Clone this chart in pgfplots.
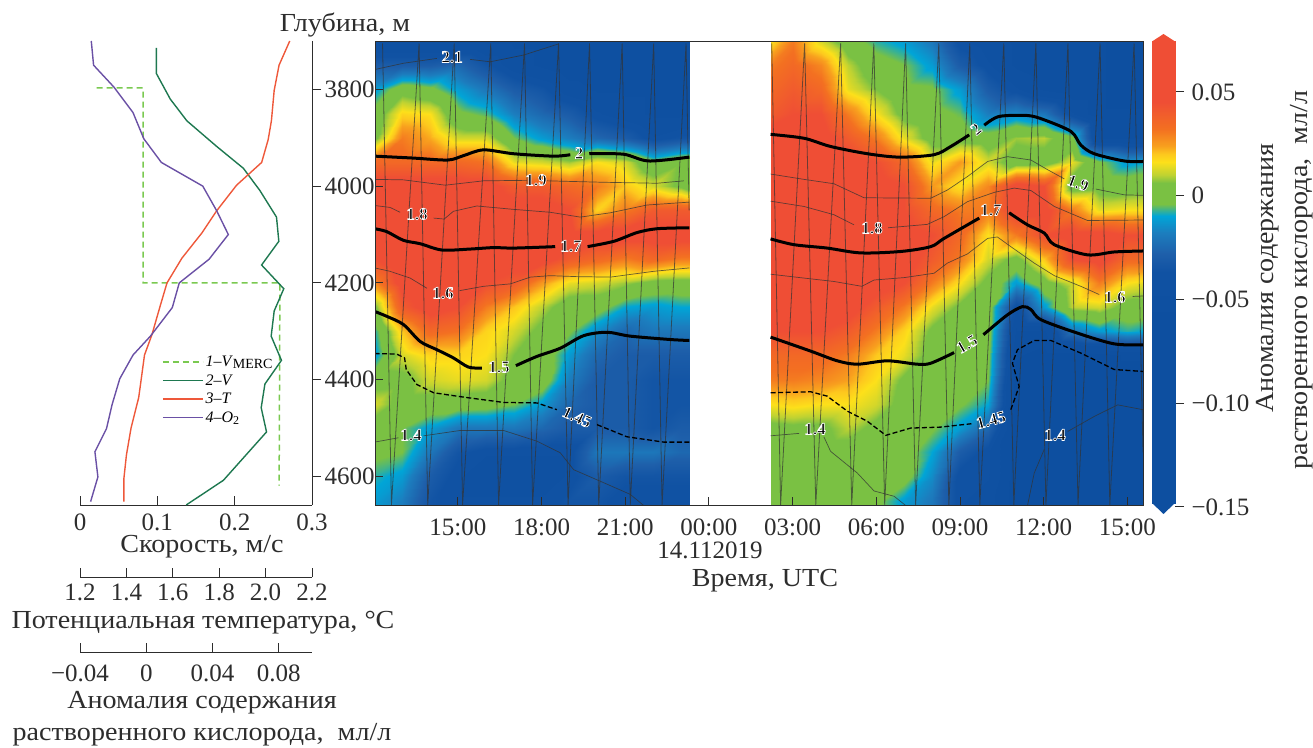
\documentclass[border=0pt]{standalone}
\usepackage{fontspec}
\usepackage{pgfplots}
\pgfplotsset{compat=1.18}
\setmainfont{Liberation Serif}
\newfontfamily\halofam[UprightFont=* Bold,FakeBold=4]{Liberation Serif}
\newfontfamily\capfam[FakeStretch=1.08]{Liberation Serif}
\newcommand{\tickf}{\fontsize{25}{28}\selectfont}
\newcommand{\capf}{\capfam\fontsize{26}{30}\selectfont}
\newcommand{\bigf}{\fontsize{25}{28}\selectfont}
\newcommand{\lbf}{\fontsize{16}{18}\selectfont}
\definecolor{axc}{RGB}{45,45,45}
\definecolor{cvel}{RGB}{30,120,80}
\definecolor{ctem}{RGB}{238,88,58}
\definecolor{coxy}{RGB}{106,80,165}
\definecolor{cmer}{RGB}{122,201,80}
\pgfplotsset{
  colormap={oxy}{rgb255(0pt)=(13,79,160); rgb255(90pt)=(13,79,160); rgb255(113pt)=(16,82,163); rgb255(122pt)=(30,95,170); rgb255(132pt)=(28,125,190); rgb255(140pt)=(0,165,215); rgb255(146pt)=(122,193,67); rgb255(156pt)=(122,193,67); rgb255(160pt)=(190,210,50); rgb255(166pt)=(253,224,26); rgb255(170pt)=(253,200,30); rgb255(174pt)=(248,160,30); rgb255(182pt)=(243,112,33); rgb255(195pt)=(239,78,53); rgb255(225pt)=(239,78,53)},
  base/.style={anchor=south west, scale only axis, tick label style={font=\tickf,text=axc}, axis line style={axc,line width=.9pt}, tick style={axc,line width=.9pt}, major tick length=9pt},
  thinc/.style={draw=black!80,line width=.7pt,opacity=.75,forget plot},
  thickc/.style={draw=black,line width=3pt,forget plot},
  dashc/.style={draw=black,line width=1.3pt,dash pattern=on 5pt off 2.5pt,forget plot},
  track/.style={draw=black!80,line width=.8pt,opacity=.7,forget plot},
}
\newcommand{\clabel}[4][0]{\node[rotate=#1,inner sep=0pt,font={\halofam\fontsize{17}{19}\selectfont}] at (#2pt,#3pt){\special{pdf:bcolor [0 0 0] [1 1 1]}#4\special{pdf:ecolor}};}
\begin{document}
\begin{tikzpicture}
\path[use as bounding box] (0,0) rectangle (1313pt,747pt);
% ---------------- heat map
\begin{axis}[base,at={(375pt,242pt)},width=768pt,height=464pt,xmin=12.03,xmax=39.56,ymin=3700,ymax=4659,y dir=reverse,
  axis on top,colormap name=oxy,point meta min=-.15,point meta max=.075,
  xtick={15,18,21,24,27,30,33,36,39},xticklabels={15:00,18:00,21:00,00:00,03:00,06:00,09:00,12:00,15:00},
  ytick={3800,4000,4200,4400,4600},yticklabels={},tick align=inside,xtick pos=lower,ytick pos=left,major tick length=8pt,
  xticklabel pos=lower,xticklabel style={yshift=-10pt}]
\addplot[surf,shader=interp,forget plot,mesh/rows=21,mesh/cols=13,mesh/ordering=y varies,point meta=\thisrow{v}] table {
x y v
12.03 3700 -.05
12.03 3750 -.03
12.03 3800 -.012
12.03 3850 0
12.03 3900 .004
12.03 3950 .035
12.03 4000 .05
12.03 4050 .055
12.03 4100 .05
12.03 4150 .045
12.03 4200 .028
12.03 4250 .005
12.03 4300 -.008
12.03 4350 -.012
12.03 4400 .002
12.03 4450 .012
12.03 4500 0
12.03 4550 -.002
12.03 4600 -.008
12.03 4650 -.012
12.03 4660 -.012
13 3700 -.05
13 3750 -.03
13 3800 .002
13 3850 .018
13 3900 .03
13 3950 .035
13 4000 .05
13 4050 .055
13 4100 .06
13 4150 .055
13 4200 .05
13 4250 .04
13 4300 .02
13 4350 .012
13 4400 .003
13 4450 .002
13 4500 -.004
13 4550 -.004
13 4600 -.012
13 4650 -.018
13 4660 -.018
14 3700 -.05
14 3750 -.03
14 3800 -.002
14 3850 .016
14 3900 .023
14 3950 .035
14 4000 .05
14 4050 .055
14 4100 .06
14 4150 .06
14 4200 .055
14 4250 .05
14 4300 .035
14 4350 .018
14 4400 .012
14 4450 .002
14 4500 -.012
14 4550 -.02
14 4600 -.03
14 4650 -.035
14 4660 -.035
15 3700 -.05
15 3750 -.025
15 3800 -.012
15 3850 -.002
15 3900 .012
15 3950 .035
15 4000 .05
15 4050 .055
15 4100 .06
15 4150 .06
15 4200 .05
15 4250 .045
15 4300 .032
15 4350 .018
15 4400 .014
15 4450 .001
15 4500 -.02
15 4550 -.035
15 4600 -.04
15 4650 -.04
15 4660 -.04
16 3700 -.05
16 3750 -.035
16 3800 -.02
16 3850 -.006
16 3900 .012
16 3950 .032
16 4000 .05
16 4050 .055
16 4100 .06
16 4150 .055
16 4200 .045
16 4250 .03
16 4300 .018
16 4350 .016
16 4400 .012
16 4450 0
16 4500 -.02
16 4550 -.04
16 4600 -.045
16 4650 -.04
16 4660 -.04
17 3700 -.05
17 3750 -.045
17 3800 -.03
17 3850 -.018
17 3900 -.004
17 3950 .014
17 4000 .04
17 4050 .05
17 4100 .055
17 4150 .05
17 4200 .04
17 4250 .02
17 4300 .012
17 4350 .006
17 4400 .002
17 4450 -.004
17 4500 -.02
17 4550 -.04
17 4600 -.045
17 4650 -.04
17 4660 -.04
18 3700 -.05
18 3750 -.05
18 3800 -.035
18 3850 -.025
18 3900 -.012
18 3950 .012
18 4000 .04
18 4050 .05
18 4100 .055
18 4150 .05
18 4200 .025
18 4250 .01
18 4300 .003
18 4350 .002
18 4400 .002
18 4450 -.012
18 4500 -.025
18 4550 -.04
18 4600 -.045
18 4650 -.04
18 4660 -.04
19 3700 -.05
19 3750 -.055
19 3800 -.045
19 3850 -.03
19 3900 -.018
19 3950 .008
19 4000 .035
19 4050 .045
19 4100 .05
19 4150 .04
19 4200 .014
19 4250 0
19 4300 -.003
19 4350 -.012
19 4400 -.018
19 4450 -.025
19 4500 -.03
19 4550 -.04
19 4600 -.04
19 4650 -.035
19 4660 -.035
20 3700 -.055
20 3750 -.055
20 3800 -.05
20 3850 -.04
20 3900 -.025
20 3950 .016
20 4000 .03
20 4050 .018
20 4100 .05
20 4150 .035
20 4200 .012
20 4250 0
20 4300 -.015
20 4350 -.025
20 4400 -.03
20 4450 -.03
20 4500 -.03
20 4550 -.02
20 4600 -.03
20 4650 -.035
20 4660 -.035
21 3700 -.055
21 3750 -.055
21 3800 -.05
21 3850 -.045
21 3900 -.03
21 3950 .012
21 4000 .02
21 4050 .03
21 4100 .05
21 4150 .03
21 4200 .008
21 4250 -.01
21 4300 -.025
21 4350 -.03
21 4400 -.03
21 4450 -.03
21 4500 -.03
21 4550 -.02
21 4600 -.035
21 4650 -.04
21 4660 -.04
22 3700 -.055
22 3750 -.055
22 3800 -.05
22 3850 -.05
22 3900 -.04
22 3950 -.002
22 4000 .012
22 4050 .04
22 4100 .05
22 4150 .035
22 4200 .003
22 4250 -.012
22 4300 -.02
22 4350 -.03
22 4400 -.035
22 4450 -.035
22 4500 -.035
22 4550 -.02
22 4600 -.035
22 4650 -.04
22 4660 -.04
23 3700 -.055
23 3750 -.055
23 3800 -.055
23 3850 -.05
23 3900 -.035
23 3950 .005
23 4000 .004
23 4050 .04
23 4100 .05
23 4150 .03
23 4200 .002
23 4250 -.01
23 4300 -.02
23 4350 -.03
23 4400 -.035
23 4450 -.035
23 4500 -.03
23 4550 -.025
23 4600 -.035
23 4650 -.04
23 4660 -.04
23.29 3700 -.055
23.29 3750 -.055
23.29 3800 -.055
23.29 3850 -.05
23.29 3900 -.035
23.29 3950 .006
23.29 4000 0
23.29 4050 .04
23.29 4100 .05
23.29 4150 .03
23.29 4200 .002
23.29 4250 -.01
23.29 4300 -.02
23.29 4350 -.03
23.29 4400 -.035
23.29 4450 -.035
23.29 4500 -.03
23.29 4550 -.025
23.29 4600 -.035
23.29 4650 -.04
23.29 4660 -.04
};
\addplot[surf,shader=interp,forget plot,mesh/rows=21,mesh/cols=15,mesh/ordering=y varies,point meta=\thisrow{v}] table {
x y v
26.21 3700 .016
26.21 3750 .03
26.21 3800 .035
26.21 3850 .04
26.21 3900 .05
26.21 3950 .06
26.21 4000 .06
26.21 4050 .06
26.21 4100 .06
26.21 4150 .06
26.21 4200 .055
26.21 4250 .05
26.21 4300 .045
26.21 4350 .035
26.21 4400 .03
26.21 4450 .016
26.21 4500 .003
26.21 4550 .002
26.21 4600 .002
26.21 4650 0
26.21 4660 0
27 3700 .03
27 3750 .035
27 3800 .04
27 3850 .045
27 3900 .05
27 3950 .06
27 4000 .06
27 4050 .06
27 4100 .06
27 4150 .06
27 4200 .055
27 4250 .05
27 4300 .045
27 4350 .035
27 4400 .03
27 4450 .018
27 4500 .004
27 4550 .002
27 4600 .002
27 4650 0
27 4660 0
28 3700 .012
28 3750 .028
28 3800 .035
28 3850 .045
28 3900 .05
28 3950 .055
28 4000 .06
28 4050 .06
28 4100 .06
28 4150 .06
28 4200 .055
28 4250 .05
28 4300 .045
28 4350 .035
28 4400 .028
28 4450 .016
28 4500 .004
28 4550 .002
28 4600 .002
28 4650 0
28 4660 0
29 3700 0
29 3750 .01
29 3800 .014
29 3850 .03
29 3900 .04
29 3950 .05
29 4000 .055
29 4050 .055
29 4100 .06
29 4150 .06
29 4200 .055
29 4250 .05
29 4300 .04
29 4350 .03
29 4400 .024
29 4450 .016
29 4500 .01
29 4550 .002
29 4600 0
29 4650 0
29 4660 0
30 3700 -.008
30 3750 0
30 3800 .006
30 3850 .016
30 3900 .03
30 3950 .045
30 4000 .05
30 4050 .05
30 4100 .055
30 4150 .055
30 4200 .05
30 4250 .04
30 4300 .03
30 4350 .02
30 4400 .016
30 4450 .012
30 4500 .003
30 4550 0
30 4600 0
30 4650 -.002
30 4660 -.002
31 3700 -.012
31 3750 -.004
31 3800 -.002
31 3850 .003
31 3900 .014
31 3950 .035
31 4000 .045
31 4050 .045
31 4100 .05
31 4150 .05
31 4200 .045
31 4250 .03
31 4300 .018
31 4350 .014
31 4400 .004
31 4450 .002
31 4500 0
31 4550 0
31 4600 0
31 4650 -.012
31 4660 -.012
32 3700 -.02
32 3750 -.012
32 3800 -.003
32 3850 -.001
32 3900 .002
32 3950 .014
32 4000 .025
32 4050 .035
32 4100 .045
32 4150 .04
32 4200 .03
32 4250 .014
32 4300 .004
32 4350 .002
32 4400 0
32 4450 -.002
32 4500 -.003
32 4550 -.01
32 4600 -.015
32 4650 -.02
32 4660 -.02
33 3700 -.04
33 3750 -.03
33 3800 -.012
33 3850 -.005
33 3900 .002
33 3950 .025
33 4000 .016
33 4050 .03
33 4100 .035
33 4150 .03
33 4200 .016
33 4250 .004
33 4300 0
33 4350 0
33 4400 -.002
33 4450 -.003
33 4500 -.012
33 4550 -.03
33 4600 -.04
33 4650 -.04
33 4660 -.04
34 3700 -.045
34 3750 -.04
34 3800 -.03
34 3850 -.018
34 3900 0
34 3950 .012
34 4000 .028
34 4050 .03
34 4100 .016
34 4150 .012
34 4200 .003
34 4250 .001
34 4300 0
34 4350 -.002
34 4400 -.004
34 4450 -.01
34 4500 -.025
34 4550 -.04
34 4600 -.04
34 4650 -.045
34 4660 -.045
35 3700 -.05
35 3750 -.05
35 3800 -.04
35 3850 -.015
35 3900 .008
35 3950 0
35 4000 .05
35 4050 .05
35 4100 .03
35 4150 .003
35 4200 -.012
35 4250 -.04
35 4300 -.05
35 4350 -.055
35 4400 -.06
35 4450 -.06
35 4500 -.06
35 4550 -.06
35 4600 -.06
35 4650 -.06
35 4660 -.06
36 3700 -.055
36 3750 -.055
36 3800 -.05
36 3850 -.02
36 3900 .01
36 3950 0
36 4000 .045
36 4050 .05
36 4100 .045
36 4150 .02
36 4200 .002
36 4250 -.012
36 4300 -.05
36 4350 -.06
36 4400 -.06
36 4450 -.06
36 4500 -.06
36 4550 -.06
36 4600 -.06
36 4650 -.06
36 4660 -.06
37 3700 -.055
37 3750 -.055
37 3800 -.055
37 3850 -.04
37 3900 -.002
37 3950 .014
37 4000 0
37 4050 .03
37 4100 .05
37 4150 .045
37 4200 .012
37 4250 .01
37 4300 -.02
37 4350 -.06
37 4400 -.06
37 4450 -.06
37 4500 -.06
37 4550 -.06
37 4600 -.06
37 4650 -.06
37 4660 -.06
38 3700 -.055
38 3750 -.055
38 3800 -.055
38 3850 -.055
38 3900 -.05
38 3950 -.003
38 4000 .002
38 4050 .014
38 4100 .05
38 4150 .05
38 4200 .03
38 4250 .012
38 4300 -.012
38 4350 -.06
38 4400 -.06
38 4450 -.06
38 4500 -.06
38 4550 -.06
38 4600 -.06
38 4650 -.06
38 4660 -.06
39 3700 -.06
39 3750 -.06
39 3800 -.06
39 3850 -.055
39 3900 -.05
39 3950 -.012
39 4000 .001
39 4050 .016
39 4100 .045
39 4150 .035
39 4200 .016
39 4250 .002
39 4300 -.008
39 4350 -.055
39 4400 -.06
39 4450 -.06
39 4500 -.06
39 4550 -.06
39 4600 -.06
39 4650 -.06
39 4660 -.06
39.56 3700 -.06
39.56 3750 -.06
39.56 3800 -.06
39.56 3850 -.055
39.56 3900 -.05
39.56 3950 -.01
39.56 4000 .002
39.56 4050 .016
39.56 4100 .045
39.56 4150 .035
39.56 4200 .014
39.56 4250 .002
39.56 4300 -.01
39.56 4350 -.055
39.56 4400 -.06
39.56 4450 -.06
39.56 4500 -.06
39.56 4550 -.06
39.56 4600 -.06
39.56 4650 -.06
39.56 4660 -.06
};
% tow-yo tracks
\addplot[track] coordinates {(12.3,3705)(12.62,4659)(13.61,3705)(13.92,4659)(14.87,3705)(15.17,4659)(16.18,3705)(16.46,4659)(17.39,3705)(17.68,4659)(18.61,3705)(18.95,4659)(19.72,3705)(20.05,4659)(20.89,3705)(21.18,4659)(22.02,3705)(22.32,4659)(23.18,3705)(23.29,4050)};
\addplot[track] coordinates {(26.25,3705)(26.57,4659)(27.43,3705)(27.83,4659)(28.72,3705)(29.12,4659)(29.91,3705)(30.3,4659)(31.05,3705)(31.41,4659)(32.24,3705)(32.6,4659)(33.35,3705)(33.71,4659)(34.57,3705)(34.93,4659)(35.72,3705)(36.08,4659)(36.87,3705)(37.23,4659)(38.02,3705)(38.37,4659)(39.24,3705)(39.56,4550)};
% contours, left part
\addplot[thickc,smooth] coordinates {(12.02,3938)(13.41,3942)(14.64,3946)(15.2,3937)(15.92,3925)(17,3933)(18.43,3938)(19.03,3935)};
\addplot[thickc,smooth] coordinates {(19.71,3933)(20.94,3934)(21.84,3948)(23.3,3940)};
\addplot[thinc] coordinates {(12.02,3986)(13.05,3987)(14.55,3998)(15.92,3989)(17.48,3988)};
\addplot[thinc] coordinates {(18.19,3989)(20.23,3992)(22.14,3994)(23.1,3989)};
\addplot[thinc] coordinates {(12.02,4040)(12.57,4044)(12.93,4054)};
\addplot[thinc] coordinates {(14.13,4066)(14.51,4068)(14.84,4052)(15.68,4041)(17,4048)(18.31,4054)(19.39,4064)(20.47,4055)(21.78,4039)(23.3,4033)};
\addplot[thickc,smooth] coordinates {(12.02,4088)(12.45,4094)(13.05,4112)(13.65,4119)(14.43,4132)(15.44,4130)(16.28,4127)(17,4128)(18.49,4125)};
\addplot[thickc,smooth] coordinates {(19.65,4125)(20.59,4114)(21.42,4096)(22.14,4088)(23.3,4086)};
\addplot[thinc] coordinates {(12.02,4169)(12.57,4176)(13.29,4190)(13.89,4211)};
\addplot[thinc] coordinates {(15.06,4216)(15.92,4207)(16.88,4202)(17.6,4188)(18.31,4185)(19.27,4187)(20.47,4188)(22.02,4176)(23.3,4169)};
\addplot[thickc,smooth] coordinates {(12.02,4259)(12.45,4269)(13.05,4286)(13.65,4321)(14.25,4338)(14.84,4355)(15.38,4374)(15.86,4376)};
\addplot[thickc,smooth] coordinates {(17.08,4371)(17.83,4352)(18.67,4335)(19.51,4309)(20.35,4302)(21.18,4310)(22.62,4317)(23.3,4319)};
\addplot[dashc] coordinates {(12.02,4346)(12.81,4347)(13.09,4355)(13.15,4379)(13.53,4410)(14.13,4427)(15.2,4436)(16.64,4447)(17.83,4448)(18.55,4462)};
\addplot[dashc] coordinates {(19.99,4493)(21.06,4518)(22.38,4529)(23.3,4529)};
\addplot[thinc] coordinates {(12.02,4529)(12.87,4520)};
\addplot[thinc] coordinates {(13.77,4516)(15.08,4505)(16.64,4505)(17.83,4527)(18.67,4551)(19.15,4586)(20.23,4613)(21.18,4637)(21.66,4660)};
\addplot[thinc] coordinates {(12.02,3759)(13.05,3746)(14.25,3736)};
\addplot[thinc] coordinates {(15.44,3738)(16.16,3743)(17.36,3729)(18.61,3706)};
% contours, right part
\addplot[thickc,smooth] coordinates {(26.21,3893)(27.41,3901)(28.36,3918)(29.68,3933)(30.82,3940)(32.07,3935)(32.67,3918)(33.33,3894)};
\addplot[thickc,smooth] coordinates {(33.87,3874)(34.4,3856)(35.42,3854)(36.02,3863)(36.98,3887)(37.33,3915)(37.81,3933)(38.89,3948)(39.56,3949)};
\addplot[thinc] coordinates {(26.21,3975)(27.41,3986)(28.48,3995)(29.56,4024)(31.95,4025)(32.55,4008)(33.27,3980)(33.99,3949)(34.7,3939)(35.54,3946)(36.14,3966)(36.74,3985)};
\addplot[thinc] coordinates {(37.87,4006)(38.89,4018)(39.56,4019)};
\addplot[thinc] coordinates {(26.21,4031)(27.41,4042)(28.48,4059)(29.2,4080)};
\addplot[thinc] coordinates {(30.42,4086)(31.83,4079)(32.43,4063)(33.27,4032)(34.22,4013)(34.94,4004)(35.54,4009)(36.38,4042)(37.57,4071)(39.56,4070)};
\addplot[thickc,smooth] coordinates {(26.21,4109)(27.05,4121)(28.24,4128)(29.44,4138)(30.88,4135)(31.95,4125)(32.43,4108)(33.69,4066)};
\addplot[thickc,smooth] coordinates {(34.76,4055)(35.42,4080)(36.02,4097)(36.38,4121)(37.57,4142)(38.53,4136)(39.56,4134)};
\addplot[thinc] coordinates {(26.21,4182)(27.41,4190)(28.48,4197)(29.48,4207)(29.92,4194)(31,4189)(32.07,4180)(32.55,4159)(33.27,4140)(33.99,4108)(34.34,4105)(34.82,4125)(35.66,4159)(36.38,4185)(37.33,4207)(37.99,4224)};
\addplot[thinc] coordinates {(39.19,4228)(39.56,4227)};
\addplot[thickc,smooth] coordinates {(26.21,4312)(27.65,4341)(28.6,4361)(29.32,4368)(30.4,4361)(31.47,4368)(31.95,4366)(32.79,4344)};
\addplot[thickc,smooth] coordinates {(33.84,4307)(34.7,4266)(35.24,4249)(35.54,4255)(35.9,4276)(37.22,4304)(38.53,4326)(39.56,4328)};
\addplot[dashc] coordinates {(26.21,4427)(27.65,4425)(28.24,4434)(28.96,4465)(29.68,4486)(30.34,4515)(31.23,4500)(32.31,4498)(33.41,4491)};
\addplot[dashc] coordinates {(34.82,4462)(35.12,4414)(34.88,4366)(35.06,4338)(35.66,4319)(36.26,4319)(37.33,4345)(38.53,4379)(39.56,4383)};
\addplot[thinc] coordinates {(26.21,4516)(27.23,4511)};
\addplot[thinc] coordinates {(28.12,4518)(28.36,4548)(29.32,4593)(29.92,4630)(30.64,4641)(31.05,4660)};
\addplot[thinc] coordinates {(35.42,4660)(35.66,4593)(36.02,4544)};
\addplot[thinc] coordinates {(36.86,4507)(37.81,4476)(38.65,4452)(39.56,4462)};
\end{axis}
% ---------------- profiles: speed
\begin{axis}[base,at={(80pt,242pt)},width=232pt,height=464pt,xmin=0,xmax=.3,ymin=3700,ymax=4659,y dir=reverse,
  axis x line=bottom,axis y line=right,axis line style={-},
  xtick={0,.1,.2,.3},xticklabels={0,0.1,0.2,0.3},ytick={3800,4000,4200,4400,4600},yticklabels={3800,4000,4200,4400,4600},
  xtick align=inside,ytick align=outside,clip=false,xticklabel style={yshift=-5pt},
  legend style={at={(.353,.326)},anchor=north west,draw=none,fill=none,font=\lbf,row sep=2.5pt,inner sep=0pt},legend cell align=left,
  legend image code/.code={\draw[#1] (0pt,0pt) -- (40pt,0pt);},
  ]
\addplot[cmer,line width=1.5pt,dash pattern=on 6pt off 4pt] coordinates {(.0215,3797)(.0815,3797)(.0815,4200)(.2585,4200)(.2575,4619)};
\addlegendentry{\textit{1–V}\raisebox{-2pt}{\fontsize{14}{14}\selectfont MERC}}
\addplot[cvel,line width=1.4pt] coordinates {(.0987,3714)(.0987,3767)(.1167,3820)(.1382,3865)(.1768,3918)(.2112,3963)(.2326,4009)(.2541,4064)(.2571,4114)(.2348,4163)(.2635,4212)(.2511,4258)(.2472,4310)(.2605,4360)(.2391,4409)(.2343,4458)(.2412,4508)(.1854,4608)(.1373,4659)};
\addlegendentry{\textit{2–V}}
\addplot[ctem,line width=1.4pt] coordinates {(.1,4000)};
\addlegendentry{\textit{3–T}}
\addplot[coxy,line width=1.4pt] coordinates {(.1,4000)};
\addlegendentry{\textit{4–O}\raisebox{-2pt}{\fontsize{12}{12}\selectfont 2}}
\end{axis}
% temperature curve
\begin{axis}[at={(80pt,242pt)},anchor=south west,scale only axis,width=232pt,height=464pt,xmin=1.2,xmax=2.2,ymin=3700,ymax=4659,y dir=reverse,hide axis,clip=false]
\addplot[ctem,line width=1.4pt] coordinates {(2.104,3700)(2.058,3750)(2.037,3802)(2.025,3865)(2.011,3904)(1.983,3951)(1.875,3998)(1.789,4051)(1.725,4097)(1.639,4149)(1.575,4200)(1.546,4247)(1.51,4307)(1.478,4349)(1.465,4395)(1.453,4437)(1.42,4500)(1.4,4556)(1.389,4605)(1.389,4652)};
\end{axis}
% oxygen curve
\begin{axis}[at={(80pt,242pt)},anchor=south west,scale only axis,width=232pt,height=464pt,xmin=-.04,xmax=.1,ymin=3700,ymax=4659,y dir=reverse,hide axis,clip=false]
\addplot[coxy,line width=1.4pt] coordinates {(-.0332,3700)(-.0318,3750)(-.0196,3795)(-.008,3848)(-.0015,3902)(.0091,3951)(.0341,4000)(.0425,4051)(.0495,4100)(.0379,4151)(.0199,4200)(.0157,4251)(.0025,4310)(-.008,4349)(-.016,4398)(-.0206,4451)(-.024,4501)(-.031,4549)(-.0292,4601)(-.0336,4652)};
\end{axis}
% temperature scale
\begin{axis}[base,at={(80pt,170pt)},width=232pt,height=1pt,xmin=1.2,xmax=2.2,ymin=0,ymax=1,axis x line=bottom,axis y line=none,axis line style={-},
  xtick={1.2,1.4,1.6,1.8,2,2.2},xticklabels={1.2,1.4,1.6,1.8,2.0,2.2},xtick align=inside,xticklabel style={yshift=-3pt}]
\end{axis}
% oxygen scale
\begin{axis}[base,at={(80pt,95pt)},width=232pt,height=1pt,xmin=-.04,xmax=.1,ymin=0,ymax=1,axis x line=bottom,axis y line=none,axis line style={-},
  xtick={-.04,0,.04,.08},xticklabels={−0.04,0,0.04,0.08},xtick align=inside,xticklabel style={yshift=-9pt}]
\end{axis}
% ---------------- colour bar
\begin{axis}[base,at={(1152pt,233pt)},width=23pt,height=480pt,xmin=0,xmax=1,ymin=-.1534,ymax=.0779,axis x line=none,axis y line=right,axis line style={draw=none},
  colormap name=oxy,point meta min=-.15,point meta max=.075,clip=false,
  ytick={-.15,-.1,-.05,0,.05},yticklabels={−0.15,−0.10,−0.05,0,0.05},ytick align=outside,yticklabel style={anchor=west,xshift=4pt}]
\addplot[surf,shader=interp,mesh/rows=15,mesh/cols=2,point meta=y,forget plot] table {
x y
0 -.1481
1 -.1481
0 -.06
1 -.06
0 -.037
1 -.037
0 -.028
1 -.028
0 -.018
1 -.018
0 -.01
1 -.01
0 -.004
1 -.004
0 .006
1 .006
0 .01
1 .01
0 .016
1 .016
0 .02
1 .02
0 .024
1 .024
0 .032
1 .032
0 .045
1 .045
0 .0743
1 .0743
};
\addplot[fill={rgb,255:red,239;green,78;blue,53},draw=none,forget plot] coordinates {(0,.0743)(.5,.0779)(1,.0743)} -- cycle;
\addplot[fill={rgb,255:red,13;green,79;blue,160},draw=none,forget plot] coordinates {(0,-.1481)(.5,-.1534)(1,-.1481)} -- cycle;
\end{axis}
% ---------------- texts
\node[font=\capf,text=axc] at (345pt,722pt) {Глубина, м};
\node[font=\capf,text=axc] at (202pt,200pt) {Скорость, м/с};
\node[font=\capf,text=axc] at (203pt,124pt) {Потенциальная температура, °C};
\node[font=\capf,text=axc] at (202pt,44pt) {Аномалия содержания};
\node[font=\capf,text=axc] at (202pt,12pt) {растворенного кислорода,\ \ мл/л};
\node[font=\bigf,text=axc] at (710pt,197pt) {14.112019};
\node[font=\capf,text=axc] at (765pt,166pt) {Время, UTC};
\node[font=\capf,text=axc,rotate=90] at (1268pt,469pt) {Аномалия содержания};
\node[font=\capf,text=axc,rotate=90] at (1302pt,467pt) {растворенного кислорода,\ \ мл/л};
% contour labels
\clabel{452}{690}{2.1}
\clabel{579}{594}{2}
\clabel{536}{567}{1.9}
\clabel{417}{533}{1.8}
\clabel{571}{501}{1.7}
\clabel{443}{454}{1.6}
\clabel{499}{380}{1.5}
\clabel[-25]{577}{330}{1.45}
\clabel{411}{312}{1.4}
\clabel[40]{976}{618}{2}
\clabel[-20]{1078}{564}{1.9}
\clabel{872}{519}{1.8}
\clabel{991}{537}{1.7}
\clabel{1115}{450}{1.6}
\clabel[30]{967}{403}{1.5}
\clabel[15]{991}{327}{1.45}
\clabel{815}{318}{1.4}
\clabel{1055}{312}{1.4}
\end{tikzpicture}
\end{document}
